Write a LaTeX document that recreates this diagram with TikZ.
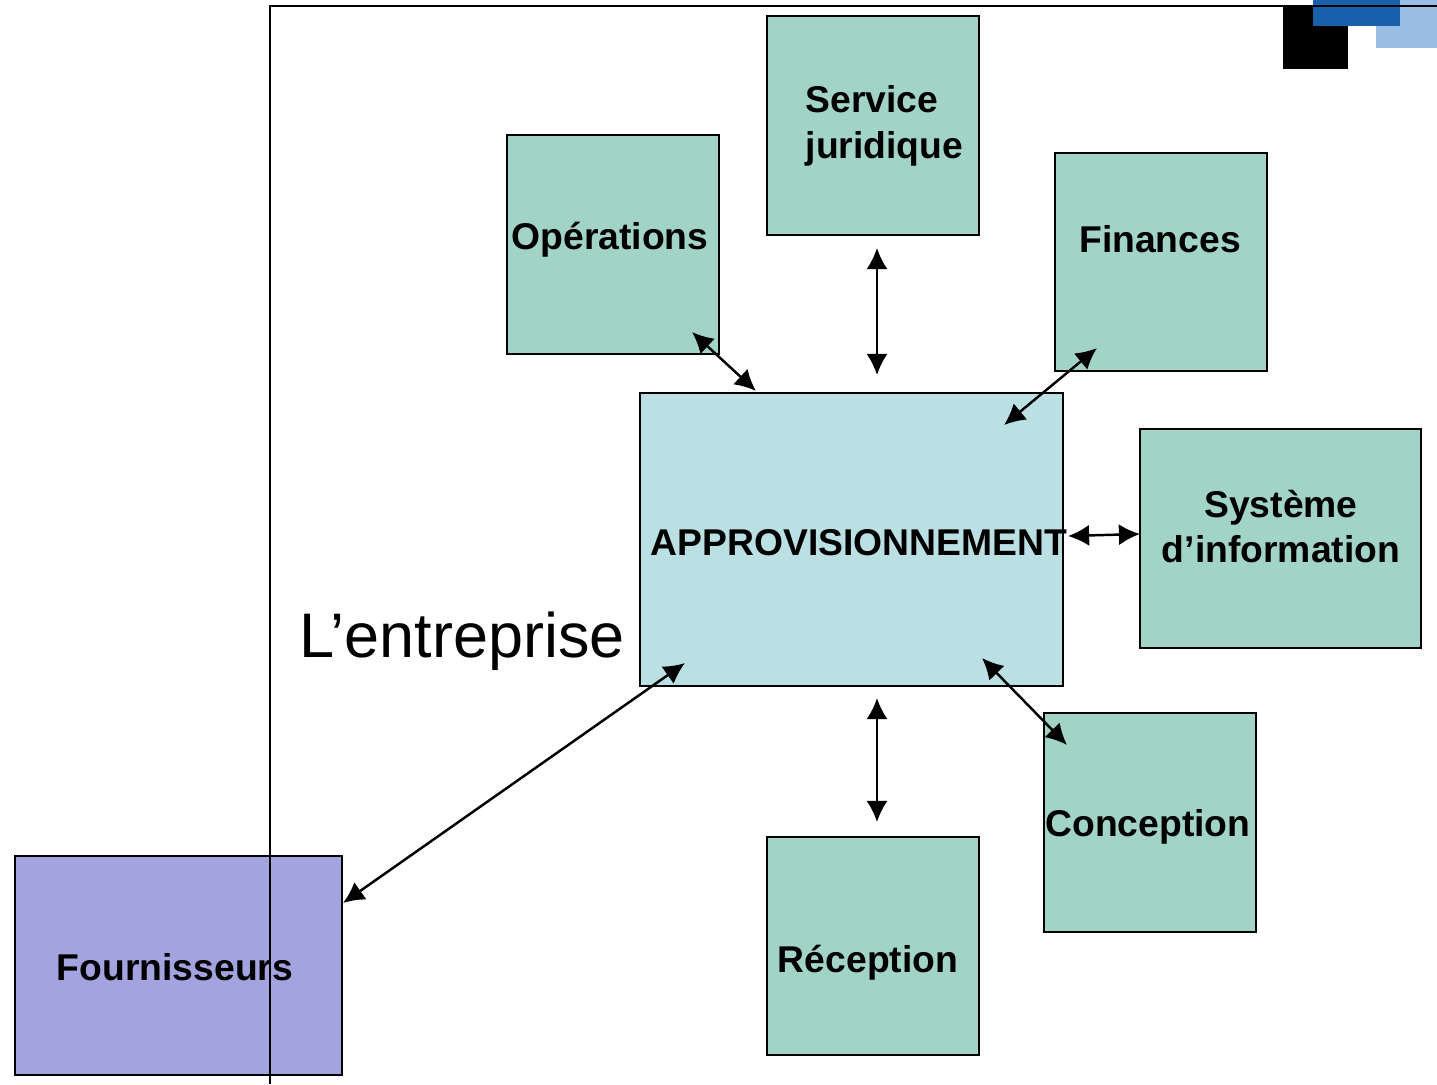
\documentclass[tikz,border=0pt]{standalone}
\usepackage{fontspec}
\setmainfont{Liberation Sans}
\usetikzlibrary{positioning,arrows.meta}
\definecolor{deptgreen}{HTML}{A2D3C7}
\definecolor{corecyan}{HTML}{BBE0E3}
\definecolor{supplier}{HTML}{A3A3DF}
\definecolor{darkblue}{HTML}{185FAC}
\definecolor{lightblue}{HTML}{9BBFE4}

\begin{document}
\begin{tikzpicture}
        [x=0.01cm, y=-0.01cm,
        font=\fontsize{10.6}{12.8}\selectfont\bfseries,
        every node/.style={align=center, inner sep=0pt},
        dept/.style={draw=black, line width=0.6pt, fill=deptgreen,
        anchor=north west, minimum width=2.12cm, minimum height=2.19cm},
        txt/.style={anchor=base},
        link/.style={<->, >={Latex[length=6pt,width=6pt]}, line width=0.7pt}]
        \useasboundingbox (0,0) rectangle (1437,1084);
        % corner marks
        \fill[black] (1283,5) rectangle (1348,69);
        \fill[lightblue] (1376,0) rectangle (1437,48);
        \fill[darkblue] (1313,0) rectangle (1400,26);
        % departments
        \node[dept] (legal) at (766,15) {};
        \node[dept] (ops) at (506,134) {};
        \node[dept, minimum height=2.18cm] (fin) at (1054,152) {};
        \node[dept, minimum width=2.81cm] (info) at (1139,428) {};
        \node[dept] (design) at (1043,712) {};
        \node[dept, minimum height=2.18cm] (recv) at (766,836) {};
        \node[dept, fill=corecyan, minimum width=4.23cm, minimum height=2.93cm] (supply) at (639,392) {};
        \node[dept, fill=supplier, minimum width=3.27cm] (vendors) at (14,855) {};
        % texts (base = last line)
        \node[txt, anchor=base west, align=left] (legalT) at (805,158) {Service\\juridique};
        \node[txt] (opsT) at (610,249) {Opérations};
        \node[txt] (finT) at (1160,252) {Finances};
        \node[txt] (infoT) at (1281,562) {Système\\d’information};
        \node[txt] (designT) at (1148,836) {Conception};
        \node[txt] (recvT) at (868,972) {Réception};
        \node[txt] (supplyT) at (859,555) {APPROVISIONNEMENT};
        \node[txt] (vendorsT) at (175,980) {Fournisseurs};
        % company frame
        \draw[line width=0.7pt] (270,1084) -- (270,6) -- (1437,6);
        \node[txt, font=\fontsize{17.9}{20}\selectfont] (firm) at (462,657) {L’entreprise};
        % links
        \coordinate (opsA) at (692,332);   \coordinate (opsB) at (756,391);
        \coordinate (legA) at (877,248);   \coordinate (legB) at (877,375);
        \coordinate (finA) at (1097,348);  \coordinate (finB) at (1004,425);
        \coordinate (infA) at (1068,536);  \coordinate (infB) at (1140,534);
        \coordinate (desA) at (982,658);   \coordinate (desB) at (1067,745);
        \coordinate (recA) at (877,698);   \coordinate (recB) at (877,822);
        \coordinate (venA) at (685,663);   \coordinate (venB) at (343,903);
        \foreach \a/\b in {opsA/opsB, legA/legB, finA/finB, infA/infB,
                           desA/desB, recA/recB, venA/venB}
            \draw[link] (\a) -- (\b);
\end{tikzpicture}
\end{document}
